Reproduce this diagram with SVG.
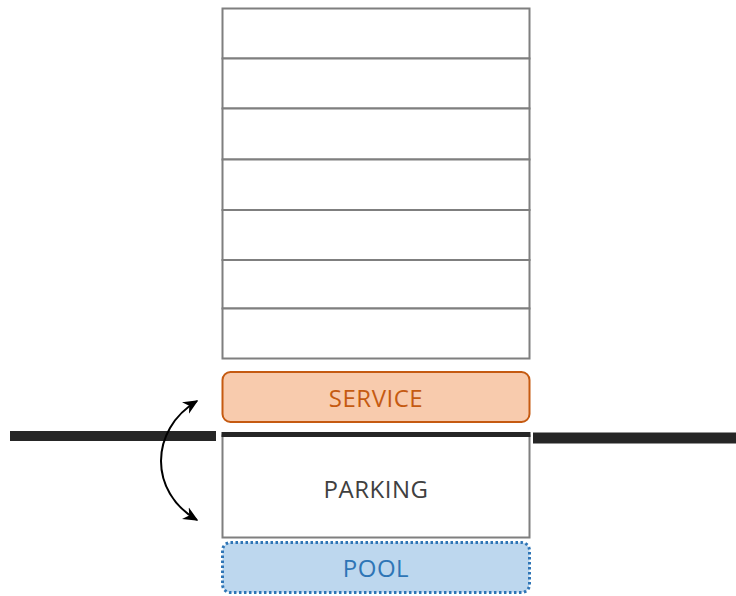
<svg xmlns="http://www.w3.org/2000/svg" width="736" height="596" viewBox="0 0 736 596">
<style>
.floor{fill:#fff;stroke:#7f7f7f;stroke-width:2}
.lbl{font-family:"Open Sans","Liberation Sans",sans-serif;font-size:24px;letter-spacing:0.5px;text-anchor:middle}
.ground{fill:#262626}
</style>
<defs>
<marker id="ah" viewBox="0 0 10 10" refX="9" refY="5" markerWidth="15" markerHeight="15" markerUnits="userSpaceOnUse" orient="auto-start-reverse">
<path d="M0,0.5 L10,5 L0,9.5 L3,5 z" fill="#000"/>
</marker>
</defs>
<rect width="736" height="596" fill="#fff"/>
<g id="floors">
<rect class="floor" x="222.5" y="8.5" width="307" height="50"/>
<rect class="floor" x="222.5" y="58.5" width="307" height="50"/>
<rect class="floor" x="222.5" y="108.5" width="307" height="51"/>
<rect class="floor" x="222.5" y="159.5" width="307" height="50.5"/>
<rect class="floor" x="222.5" y="210" width="307" height="50"/>
<rect class="floor" x="222.5" y="260" width="307" height="48.5"/>
<rect class="floor" x="222.5" y="308.5" width="307" height="50"/>
</g>
<g id="service">
<rect x="222.5" y="372" width="307" height="50" rx="8" fill="#f8cbad" stroke="#c55a11" stroke-width="2"/>
<text class="lbl" x="376" y="407" fill="#c55a11">SERVICE</text>
</g>
<g id="ground">
<rect class="ground" x="10" y="431" width="206" height="10"/>
<rect class="ground" x="533" y="432.5" width="203" height="11"/>
</g>
<g id="parking">
<rect class="floor" x="222.5" y="435.5" width="307" height="102"/>
<rect class="ground" x="221.5" y="432" width="309" height="5"/>
<text class="lbl" x="376" y="498" fill="#404040">PARKING</text>
</g>
<g id="pool">
<rect x="222.5" y="542.5" width="307" height="50" rx="8" fill="#bdd7ee" stroke="#2e75b6" stroke-width="3" stroke-dasharray="2.5 2.5"/>
<text class="lbl" x="376" y="577" fill="#2e75b6">POOL</text>
</g>
<g id="connectors">
<path d="M197,401 C149,430 149,492 197,520" fill="none" stroke="#000" stroke-width="2" marker-start="url(#ah)" marker-end="url(#ah)"/>
</g>
</svg>
